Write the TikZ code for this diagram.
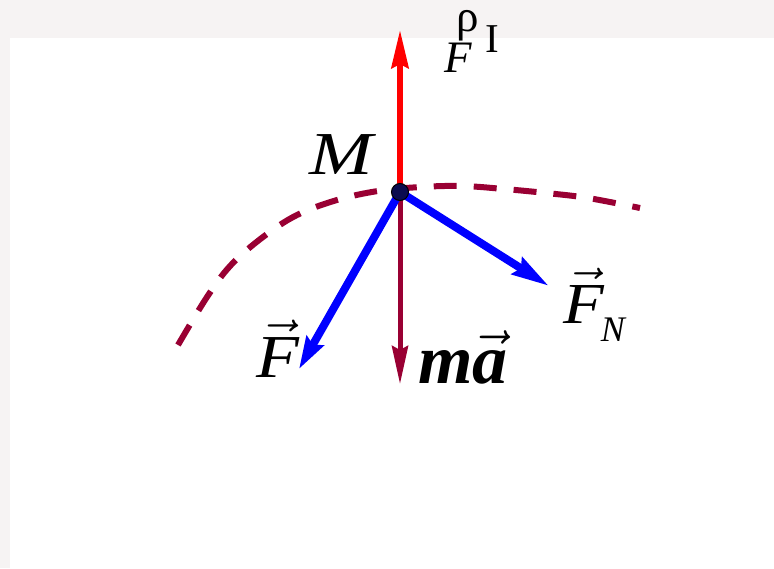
\RequirePackage{fix-cm}
\documentclass[tikz,border=0pt]{standalone}
\usepackage{amsmath}
\usepackage{graphicx}
\usepackage{fontspec}
\setmainfont{Liberation Serif}
\usetikzlibrary{arrows.meta}
\definecolor{maroon}{HTML}{990033}
\definecolor{bgc}{HTML}{F6F3F3}
\definecolor{dotc}{HTML}{0B0B4F}
\newcommand{\bfa}{\text{\bfseries\itshape a}}
\newcommand{\itF}{\text{\itshape F}}
\begin{document}
\begin{tikzpicture}[x=1pt,y=1pt,
  redvec/.style={draw=red, line width=6pt, -{Stealth[length=38pt,width=17pt,inset=4pt]}},
  bluevec/.style={draw=blue, line width=8pt, -{Stealth[length=#1,width=19pt,inset=4pt]}},
  accvec/.style={draw=maroon, line width=5pt, -{Stealth[length=38pt,width=16pt,inset=4pt]}},
  trajline/.style={draw=maroon, line width=6pt, dash pattern=on 23pt off 17pt},
  lab/.style={inner sep=0pt, anchor=base west}]
\useasboundingbox (0,0) rectangle (774,-568);
\fill[bgc] (0,0) rectangle (774,-568);
\fill[white] (10,-38) rectangle (774,-568);
% trajectory
\draw[trajline] plot[smooth, tension=0.6] coordinates {(178,-345) (207,-297) (231,-265) (263,-237) (297,-215) (337,-200) (378,-191) (421,-187) (462,-186) (504,-189) (546,-193) (588,-198) (640,-208)};
% point
\coordinate (M) at (400,-192);
\coordinate (FI) at (400,-30);
\coordinate (F) at (299,-369);
\coordinate (FN) at (549,-286);
\coordinate (ma) at (400,-384);
\draw[accvec] (M) -- (ma);
\draw[bluevec=32pt] (M) -- (F);
\draw[bluevec=37pt] (M) -- (FN);
\draw[redvec] (M) -- (FI);
\node[circle, fill=dotc, draw=black, line width=1pt, minimum size=17pt, inner sep=0pt] (Mdot) at (M) {};
% labels
\node[lab] (labM) at (309,-174) {\scalebox{1.25}[1]{\fontsize{61}{64}\selectfont\itshape M}};
\node[lab] (labF) at (256,-377) {\scalebox{1.15}[1]{\fontsize{61}{64}\selectfont $\vec{\itF}$}};
\node[lab] (labFN) at (563,-323) {\scalebox{1.15}[1]{\fontsize{58}{62}\selectfont $\vec{\itF}$}\hspace{-3pt}\raisebox{-18pt}{\fontsize{36}{36}\selectfont\itshape N}};
\node[lab] (labma) at (418,-383) {\fontsize{70}{74}\selectfont\bfseries\itshape m$\vec{\bfa}$};
\node[lab] (rho) at (456,-31) {\fontsize{45}{48}\selectfont ρ};
\node[lab] (topF) at (444,-72) {\fontsize{45}{48}\selectfont\itshape F};
\node[lab] (topI) at (485,-52) {\fontsize{41}{44}\selectfont I};
\end{tikzpicture}
\end{document}
